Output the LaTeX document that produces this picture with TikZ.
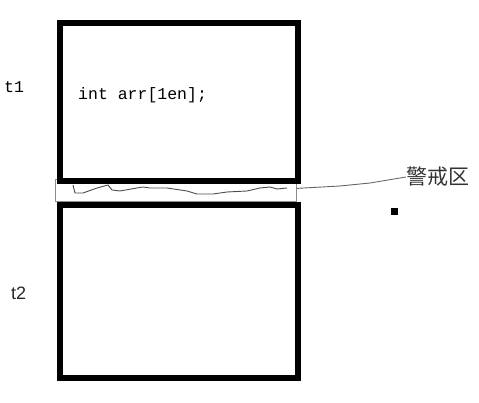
\documentclass[tikz,border=0pt]{standalone}
\usepackage{fontspec}
\setmainfont{Liberation Sans}
\newfontfamily\monof{Liberation Mono}
\newfontfamily\cjk{Noto Sans CJK SC}
\begin{document}
\begin{tikzpicture}[x=1pt,y=-1pt,
  bigbox/.style={draw=black,line width=6pt,minimum width=238pt,inner sep=0pt,anchor=north west},
  strip/.style={draw=black!45,line width=0.8pt,minimum width=241pt,minimum height=22pt,inner sep=0pt,anchor=north west},
  wave/.style={draw=black!70,line width=0.9pt},
  lead/.style={draw=black!60,line width=0.9pt},
  lbl/.style={inner sep=0pt,anchor=west}]
\useasboundingbox (0,0) rectangle (479,403);
\node[strip] (zone) at (55,179) {};
\node[bigbox,minimum height=158pt] (t1box) at (57,20) {};
\node[bigbox,minimum height=173pt] (t2box) at (57,202) {};
\draw[wave] (73,185) -- (75,193) -- (83,193) -- (97,188) -- (108,185) -- (112,190) -- (120,191) -- (137,188) -- (143,187) -- (150,188) -- (167,188) -- (187,191) -- (197,194) -- (213,194) -- (227,192) -- (247,191) -- (260,188) -- (270,187) -- (277,189) -- (287,188);
\node[lbl,font=\cjk\fontsize{21pt}{21pt}\selectfont,text=black!80] (warn) at (406,177) {警戒区};
\coordinate (k1) at (370,183);
\draw[lead] (zone.east) ++(0,-2) -- (340,186) -- (k1) -- (warn.west);
\node[fill=black,minimum size=7pt,inner sep=0pt] (dot) at (394,212) {};
\node[lbl,font=\monof\fontsize{16.5pt}{16.5pt}\selectfont,text=black] (t1) at (4,87) {t1};
\node[lbl,font=\fontsize{18pt}{18pt}\selectfont,text=black!85] (t2) at (11,293) {t2};
\node[lbl,font=\monof\fontsize{16.5pt}{16.5pt}\selectfont,text=black] (code) at (78,95) {int arr[1en];};
\end{tikzpicture}
\end{document}
